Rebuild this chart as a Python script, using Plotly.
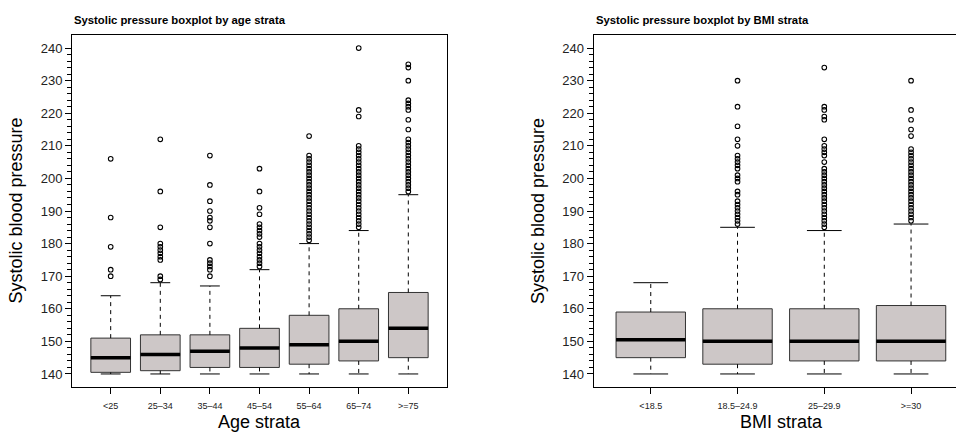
import plotly.graph_objects as go

# ---- Age strata: box statistics and outlying readings ----
age_labels = ["<25", "25\u201334", "35\u201344", "45\u201354", "55\u201364", "65\u201374", ">=75"]
age_q1 = [140.5, 141, 142, 142, 143, 144, 145]
age_median = [145, 146, 147, 148, 149, 150, 154]
age_q3 = [151, 152, 152, 154, 158, 160, 165]
age_whisk_lo = [140, 140, 140, 140, 140, 140, 140]
age_whisk_hi = [164, 168, 167, 172, 180, 184, 195]
age_outliers = [
    [206, 188, 179, 172, 170],
    [212, 196, 185, 180, 179, 178, 177, 176, 175, 170, 169],
    [207, 198, 193, 190, 188, 187, 185, 180, 175, 174, 173, 172, 170],
    [203, 196, 191, 189, 186, 185, 184, 183, 182, 180, 179, 178, 177, 176, 175, 174, 173],
    [213, 207, 206, 205, 204, 203, 202, 201, 200, 199, 198, 197, 196, 195, 194, 193,
     192, 191, 190, 189, 188, 187, 186, 185, 184, 183, 182, 181],
    [240, 221, 219, 210, 209, 208, 207, 206, 205, 204, 203, 202, 201, 200, 199, 198,
     197, 196, 195, 194, 193, 192, 191, 190, 189, 188, 187, 186, 185],
    [235, 234, 230, 224, 223, 222, 221, 218, 215, 212, 211, 210, 209, 208, 207, 206,
     205, 204, 203, 202, 201, 200, 199, 198, 197, 196],
]

# ---- BMI strata: box statistics and outlying readings ----
bmi_labels = ["<18.5", "18.5\u201324.9", "25\u201329.9", ">=30"]
bmi_q1 = [145, 143, 144, 144]
bmi_median = [150.5, 150, 150, 150]
bmi_q3 = [159, 160, 160, 161]
bmi_whisk_lo = [140, 140, 140, 140]
bmi_whisk_hi = [168, 185, 184, 186]
bmi_outliers = [
    [],
    [230, 222, 216, 212, 210, 207, 206, 205, 204, 203, 201, 200, 199, 196, 195, 193,
     192, 191, 190, 189, 188, 187, 186],
    [234, 222, 221, 219, 218, 212, 210, 209, 208, 207, 205, 203, 202, 201, 200, 199,
     198, 197, 196, 195, 194, 193, 192, 191, 190, 189, 188, 187, 186, 185],
    [230, 221, 218, 215, 213, 209, 208, 207, 206, 205, 204, 203, 202, 201, 200, 199,
     198, 197, 196, 195, 194, 193, 192, 191, 190, 189, 188, 187],
]

y_ticks = [140, 150, 160, 170, 180, 190, 200, 210, 220, 230, 240]

FONT = "Liberation Sans, Arial, Helvetica, sans-serif"
BOX_FILL = "#CDC7C7"
BOX_W = 0.8      # box width in category units
STAPLE_W = 0.4   # whisker cap width

W, H = 956, 432
fig = go.Figure()


def add_panel(labels, q1, med, q3, lo, hi, outliers, xref, yref):
    pos = list(range(1, len(labels) + 1))
    # box bodies
    fig.add_trace(go.Box(
        x=pos, q1=q1, median=med, q3=q3, lowerfence=q1, upperfence=q3,
        width=BOX_W, fillcolor=BOX_FILL, whiskerwidth=0,
        line=dict(color="#333333", width=1), boxpoints=False,
        xaxis=xref, yaxis=yref, hoverinfo="skip", showlegend=False,
    ))
    # dashed whiskers
    wx, wy = [], []
    for p, a, b, c, d in zip(pos, q1, q3, lo, hi):
        wx += [p, p, None, p, p, None]
        wy += [b, d, None, a, c, None]
    fig.add_trace(go.Scatter(
        x=wx, y=wy, mode="lines", line=dict(color="black", width=1, dash="4px,4px"),
        xaxis=xref, yaxis=yref, hoverinfo="skip", showlegend=False,
    ))
    # staples
    sx, sy = [], []
    for p, c, d in zip(pos, lo, hi):
        sx += [p - STAPLE_W / 2, p + STAPLE_W / 2, None, p - STAPLE_W / 2, p + STAPLE_W / 2, None]
        sy += [c, c, None, d, d, None]
    fig.add_trace(go.Scatter(
        x=sx, y=sy, mode="lines", line=dict(color="black", width=1),
        xaxis=xref, yaxis=yref, hoverinfo="skip", showlegend=False,
    ))
    # heavy median bars
    mx, my = [], []
    for p, m in zip(pos, med):
        mx += [p - BOX_W / 2, p + BOX_W / 2, None]
        my += [m, m, None]
    fig.add_trace(go.Scatter(
        x=mx, y=my, mode="lines", line=dict(color="black", width=3.5),
        xaxis=xref, yaxis=yref, hoverinfo="skip", showlegend=False,
    ))
    # outliers
    ox, oy = [], []
    for p, vals in zip(pos, outliers):
        ox += [p] * len(vals)
        oy += vals
    fig.add_trace(go.Scatter(
        x=ox, y=oy, mode="markers",
        marker=dict(symbol="circle-open", size=4.6, color="black", line=dict(width=1.1)),
        xaxis=xref, yaxis=yref, hoverinfo="skip", showlegend=False,
    ))


add_panel(age_labels, age_q1, age_median, age_q3, age_whisk_lo, age_whisk_hi,
          age_outliers, "x", "y")
add_panel(bmi_labels, bmi_q1, bmi_median, bmi_q3, bmi_whisk_lo, bmi_whisk_hi,
          bmi_outliers, "x2", "y2")

y_dom = [1 - 387 / H, 1 - 35 / H]
minor_vals = list(range(140, 241, 2))

common_x = dict(
    showgrid=False, zeroline=False, showline=True, linecolor="black", linewidth=1,
    ticks="outside", ticklen=6, tickcolor="black", tickwidth=1,
    tickfont=dict(family=FONT, size=9, color="#222222"), ticklabelstandoff=4,
)
common_y = dict(
    range=[136, 244], domain=y_dom, tickmode="array", tickvals=y_ticks,
    showgrid=False, zeroline=False, showline=True, linecolor="black", linewidth=1,
    ticks="outside", ticklen=6, tickcolor="black", tickwidth=1,
    tickfont=dict(family=FONT, size=13, color="#222222"),
    minor=dict(tickmode="array", tickvals=minor_vals, ticks="outside", ticklen=4,
               tickcolor="black", tickwidth=1, showgrid=False),
)

fig.update_layout(
    width=W, height=H, margin=dict(l=0, r=0, t=0, b=0),
    paper_bgcolor="white", plot_bgcolor="white",
    font=dict(family=FONT, color="black"),
    xaxis=dict(domain=[72 / W, 447 / W], range=[0.22, 7.78], tickmode="array",
               tickvals=list(range(1, len(age_labels) + 1)), ticktext=age_labels,
               mirror=True, anchor="y", **common_x),
    yaxis=dict(anchor="x", mirror=True, **common_y),
    xaxis2=dict(domain=[593.5 / W, 1.0], range=[0.34, 4.518], tickmode="array",
                tickvals=list(range(1, len(bmi_labels) + 1)), ticktext=bmi_labels,
                mirror=True, anchor="y2", **common_x),
    yaxis2=dict(anchor="x2", mirror=False, **common_y),
)

# panel titles and axis titles
ann = [
    dict(text="<b>Systolic pressure boxplot by age strata</b>", x=72 / W, y=1 - 20 / H,
         xanchor="left", yanchor="middle", font=dict(size=11.3)),
    dict(text="<b>Systolic pressure boxplot by BMI strata</b>", x=593.5 / W, y=1 - 20 / H,
         xanchor="left", yanchor="middle", font=dict(size=11.3)),
    dict(text="Age strata", x=259.5 / W, y=1 - 422 / H, xanchor="center", yanchor="middle",
         font=dict(size=18)),
    dict(text="BMI strata", x=781 / W, y=1 - 422 / H, xanchor="center", yanchor="middle",
         font=dict(size=18)),
    dict(text="Systolic blood pressure", x=15.5 / W, y=(y_dom[0] + y_dom[1]) / 2, textangle=-90,
         xanchor="center", yanchor="middle", font=dict(size=18)),
    dict(text="Systolic blood pressure", x=538 / W, y=(y_dom[0] + y_dom[1]) / 2, textangle=-90,
         xanchor="center", yanchor="middle", font=dict(size=18)),
]
for a in ann:
    a.update(xref="paper", yref="paper", showarrow=False)
    a["font"].update(family=FONT, color="black")
fig.update_layout(annotations=ann)

fig.write_html("out.html")
